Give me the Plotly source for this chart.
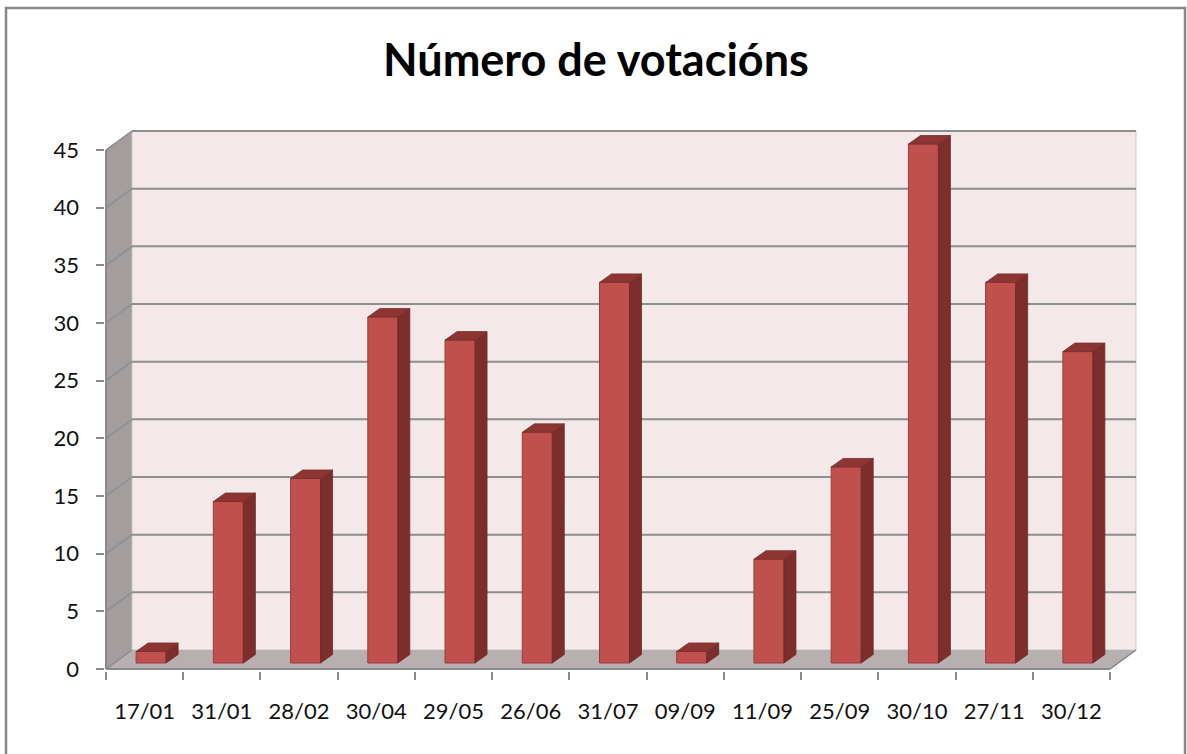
import plotly.graph_objects as go

# ---------------- data ----------------
categories = ["17/01", "31/01", "28/02", "30/04", "29/05", "26/06", "31/07",
              "09/09", "11/09", "25/09", "30/10", "27/11", "30/12"]
votes = [1, 14, 16, 30, 28, 20, 33, 1, 9, 17, 45, 33, 27]
y_ticks = [0, 5, 10, 15, 20, 25, 30, 35, 40, 45]
title_text = "Número de votacións"

# ---------------- geometry / style ----------------
W, H = 1187, 754
FX0, FX1 = 106, 1110      # front x extent (px)
FY0, FY1 = 669, 150       # front y for 0 and max (px)
DPX, DPY = 26, 19         # depth offset of back wall (px)
n = len(categories)
ymax = y_ticks[-1]
sx = (FX1 - FX0) / n
sy = (FY0 - FY1) / ymax
DX, DY = DPX / sx, DPY / sy
PAD = 1.5
xr = [-0.5 - PAD / sx, n - 0.5 + DX + PAD / sx]
yr = [-PAD / sy, ymax + DY + PAD / sy]
dom_x = [(FX0 - PAD) / W, (FX1 + DPX + PAD) / W]
dom_y = [1 - (FY0 + PAD) / H, 1 - (FY1 - DPY - PAD) / H]

# bar geometry (relative)
BX = 6.5 / sx      # shift of front face into depth
BZ = 6.0 / sy
BW = 30 / sx
BDX = 12 / sx
BDY = 8.5 / sy

FRONT = "#c0504d"
FRONT_LINE = "#9a3d3a"
SIDE = "#7b2e2c"
TOP = "#8c3532"
BACK_WALL = "#f4e8e8"
LEFT_WALL = "#a39d9d"
FLOOR = "#b8b0b0"
GRID = "#8e8e8e"
AX = "#8a8a8a"
FONT = "Lato"

fig = go.Figure()

shapes = []
L0, R0 = -0.5, n - 0.5
# walls
shapes.append(dict(type="path", xref="x", yref="y", layer="below",
                   path=f"M {L0},0 L {L0},{ymax} L {L0+DX},{ymax+DY} L {L0+DX},{DY} Z",
                   fillcolor=LEFT_WALL, line=dict(color=AX, width=1)))
shapes.append(dict(type="path", xref="x", yref="y", layer="below",
                   path=f"M {L0},0 L {R0},0 L {R0+DX},{DY} L {L0+DX},{DY} Z",
                   fillcolor=FLOOR, line=dict(color=AX, width=1)))
shapes.append(dict(type="path", xref="x", yref="y", layer="below",
                   path=f"M {L0+DX},{DY} L {R0+DX},{DY} L {R0+DX},{ymax+DY} L {L0+DX},{ymax+DY} Z",
                   fillcolor=BACK_WALL, line=dict(color="#c8c8c8", width=1)))
# gridlines on back wall and left wall
for v in y_ticks:
    if v > 0:
        shapes.append(dict(type="line", xref="x", yref="y", layer="below",
                           x0=L0 + DX, x1=R0 + DX, y0=v + DY, y1=v + DY,
                           line=dict(color=GRID, width=2)))
    shapes.append(dict(type="line", xref="x", yref="y", layer="below",
                       x0=L0, x1=L0 + DX, y0=v, y1=v + DY,
                       line=dict(color=GRID, width=1.5)))
# front axis lines
shapes.append(dict(type="line", xref="x", yref="y", layer="below",
                   x0=L0, x1=L0, y0=0, y1=ymax, line=dict(color=AX, width=2)))
shapes.append(dict(type="line", xref="x", yref="y", layer="below",
                   x0=L0, x1=R0, y0=0, y1=0, line=dict(color=AX, width=2)))
shapes.append(dict(type="line", xref="x", yref="y", layer="below",
                   x0=R0, x1=R0 + DX, y0=0, y1=DY, line=dict(color=AX, width=1.5)))
# chart frame
shapes.append(dict(type="rect", xref="paper", yref="paper",
                   x0=6 / W, x1=1185 / W, y0=-0.05, y1=1 - 8 / H,
                   line=dict(color="#888888", width=2.5), fillcolor="rgba(0,0,0,0)"))

# front faces
xs = [i + BX for i in range(n)]
fig.add_trace(go.Bar(x=xs, y=votes, base=BZ, width=BW,
                     marker=dict(color=FRONT, line=dict(color=FRONT_LINE, width=1)),
                     hoverinfo="skip", showlegend=False))

# side and top faces
side_x, side_y, top_x, top_y = [], [], [], []
for i, v in enumerate(votes):
    c = i + BX
    r = c + BW / 2
    l = c - BW / 2
    side_x += [r, r, r + BDX, r + BDX, r, None]
    side_y += [BZ, BZ + v, BZ + v + BDY, BZ + BDY, BZ, None]
    top_x += [l, r, r + BDX, l + BDX, l, None]
    top_y += [BZ + v, BZ + v, BZ + v + BDY, BZ + v + BDY, BZ + v, None]
fig.add_trace(go.Scatter(x=side_x, y=side_y, fill="toself", fillcolor=SIDE, mode="lines",
                         line=dict(color="#6e2826", width=0.8), hoverinfo="skip", showlegend=False))
fig.add_trace(go.Scatter(x=top_x, y=top_y, fill="toself", fillcolor=TOP, mode="lines",
                         line=dict(color="#7a2e2c", width=0.8), hoverinfo="skip", showlegend=False))

fig.update_layout(
    width=W, height=H, autosize=False,
    margin=dict(l=0, r=0, t=0, b=0, autoexpand=False),
    paper_bgcolor="white", plot_bgcolor="rgba(0,0,0,0)",
    shapes=shapes,
    showlegend=False,
    font=dict(family=FONT, color="#111111", size=22),
    xaxis=dict(domain=dom_x, range=xr, showgrid=False, zeroline=False, showline=False,
               automargin=False,
               tickmode="array", tickvals=list(range(n)), ticktext=categories,
               ticks="", ticklabelstandoff=25,
               minor=dict(tickmode="array", tickvals=[i - 0.5 for i in range(n + 1)],
                          ticks="outside", ticklen=8, tickcolor=AX, tickwidth=1.5, showgrid=False),
               fixedrange=True),
    yaxis=dict(domain=dom_y, range=yr, showgrid=False, zeroline=False, showline=False,
               automargin=False,
               tickmode="array", tickvals=y_ticks, ticks="outside", ticklen=8,
               tickcolor=AX, tickwidth=1.5, ticklabelstandoff=12, fixedrange=True),
    annotations=[dict(text=f"<b>{title_text}</b>", xref="paper", yref="paper",
                      x=596 / W, y=1 - 59 / H, xanchor="center", yanchor="middle",
                      showarrow=False, font=dict(family=FONT, size=45, color="#000000"))],
)

fig.write_html("out.html", config={"displayModeBar": False},
               post_script="document.body.style.margin='0';document.body.style.overflow='hidden';")
